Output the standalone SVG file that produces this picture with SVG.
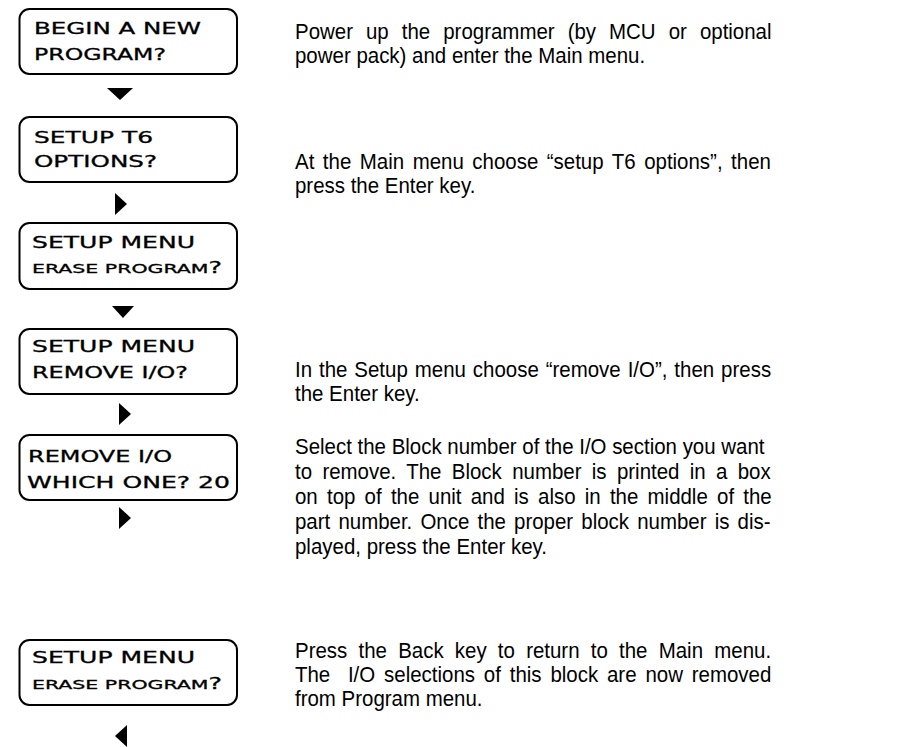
<svg xmlns="http://www.w3.org/2000/svg" width="907" height="747" viewBox="0 0 907 747">
<style>
.box{fill:#fff;stroke:#000;stroke-width:2}
.lcd{font-family:"DejaVu Sans",sans-serif;font-size:15.5px;fill:#000;stroke:#000;stroke-width:0.3}
.lcds{font-family:"DejaVu Sans",sans-serif;font-size:12.5px;fill:#000;stroke:#000;stroke-width:0.3}
.q{font-size:15.5px}
.desc{font-family:"Liberation Sans",Arial,sans-serif;font-size:22px;fill:#000}
.arr{fill:#000}
</style>
<rect width="907" height="747" fill="#fff"/>
<g id="connectors">
<polygon class="arr" points="107,88 133,88 120,100"/>
<polygon class="arr" points="115,193 127,204 115,215"/>
<polygon class="arr" points="112,306 134,306 123,318"/>
<polygon class="arr" points="119,403 131,414 119,425"/>
<polygon class="arr" points="119,507 131,518 119,529"/>
<polygon class="arr" points="127,725 115,736 127,747"/>
</g>
<g id="node1">
<rect class="box" x="19.5" y="9" width="217.5" height="65" rx="10"/>
<text class="lcd" x="34" y="34" textLength="167" lengthAdjust="spacingAndGlyphs">BEGIN A NEW</text>
<text class="lcd" x="34" y="60" textLength="132" lengthAdjust="spacingAndGlyphs">PROGRAM?</text>
</g>
<g id="node2">
<rect class="box" x="19.5" y="117" width="217.5" height="65" rx="10"/>
<text class="lcd" x="34" y="143" textLength="119" lengthAdjust="spacingAndGlyphs">SETUP T6</text>
<text class="lcd" x="34" y="167" textLength="123" lengthAdjust="spacingAndGlyphs">OPTIONS?</text>
</g>
<g id="node3">
<rect class="box" x="19.5" y="223" width="217.5" height="66" rx="10"/>
<text class="lcd" x="32" y="248" textLength="163" lengthAdjust="spacingAndGlyphs">SETUP MENU</text>
<text class="lcds" x="32" y="273" textLength="190" lengthAdjust="spacingAndGlyphs">ERASE PROGRAM<tspan class="q">?</tspan></text>
</g>
<g id="node4">
<rect class="box" x="19.5" y="329" width="217.5" height="65" rx="10"/>
<text class="lcd" x="32" y="352" textLength="163" lengthAdjust="spacingAndGlyphs">SETUP MENU</text>
<text class="lcd" x="32" y="378" textLength="156" lengthAdjust="spacingAndGlyphs">REMOVE I/O?</text>
</g>
<g id="node5">
<rect class="box" x="19.5" y="435" width="217.5" height="65" rx="10"/>
<text class="lcd" x="28" y="462" textLength="144" lengthAdjust="spacingAndGlyphs">REMOVE I/O</text>
<text class="lcd" x="27" y="488" textLength="203" lengthAdjust="spacingAndGlyphs">WHICH ONE? 20</text>
</g>
<g id="node6">
<rect class="box" x="19.5" y="640" width="217.5" height="65" rx="10"/>
<text class="lcd" x="32" y="663" textLength="163" lengthAdjust="spacingAndGlyphs">SETUP MENU</text>
<text class="lcds" x="32" y="689" textLength="190" lengthAdjust="spacingAndGlyphs">ERASE PROGRAM<tspan class="q">?</tspan></text>
</g>
<g id="desc1" transform="translate(295,0) scale(0.93,1)">
<text class="desc" x="0" y="39" word-spacing="7.9">Power up the programmer (by MCU or optional</text>
<text class="desc" x="0" y="63">power pack) and enter the Main menu.</text>
</g>
<g id="desc2" transform="translate(295,0) scale(0.93,1)">
<text class="desc" x="0" y="169" word-spacing="3.05">At the Main menu choose “setup T6 options”, then</text>
<text class="desc" x="0" y="193">press the Enter key.</text>
</g>
<g id="desc3" transform="translate(295,0) scale(0.93,1)">
<text class="desc" x="0" y="377" word-spacing="1.35">In the Setup menu choose “remove I/O”, then press</text>
<text class="desc" x="0" y="401">the Enter key.</text>
</g>
<g id="desc4" transform="translate(295,0) scale(0.93,1)">
<text class="desc" x="0" y="454">Select the Block number of the I/O section you want</text>
<text class="desc" x="0" y="479" word-spacing="5">to remove. The Block number is printed in a box</text>
<text class="desc" x="0" y="504" word-spacing="3.8">on top of the unit and is also in the middle of the</text>
<text class="desc" x="0" y="529" word-spacing="2.65">part number. Once the proper block number is dis-</text>
<text class="desc" x="0" y="554">played, press the Enter key.</text>
</g>
<g id="desc5" transform="translate(295,0) scale(0.93,1)">
<text class="desc" x="0" y="658" word-spacing="5.95">Press the Back key to return to the Main menu.</text>
<text class="desc" x="0" y="682" word-spacing="3.4" style="white-space:pre">The  I/O selections of this block are now removed</text>
<text class="desc" x="0" y="706">from Program menu.</text>
</g>
</svg>
